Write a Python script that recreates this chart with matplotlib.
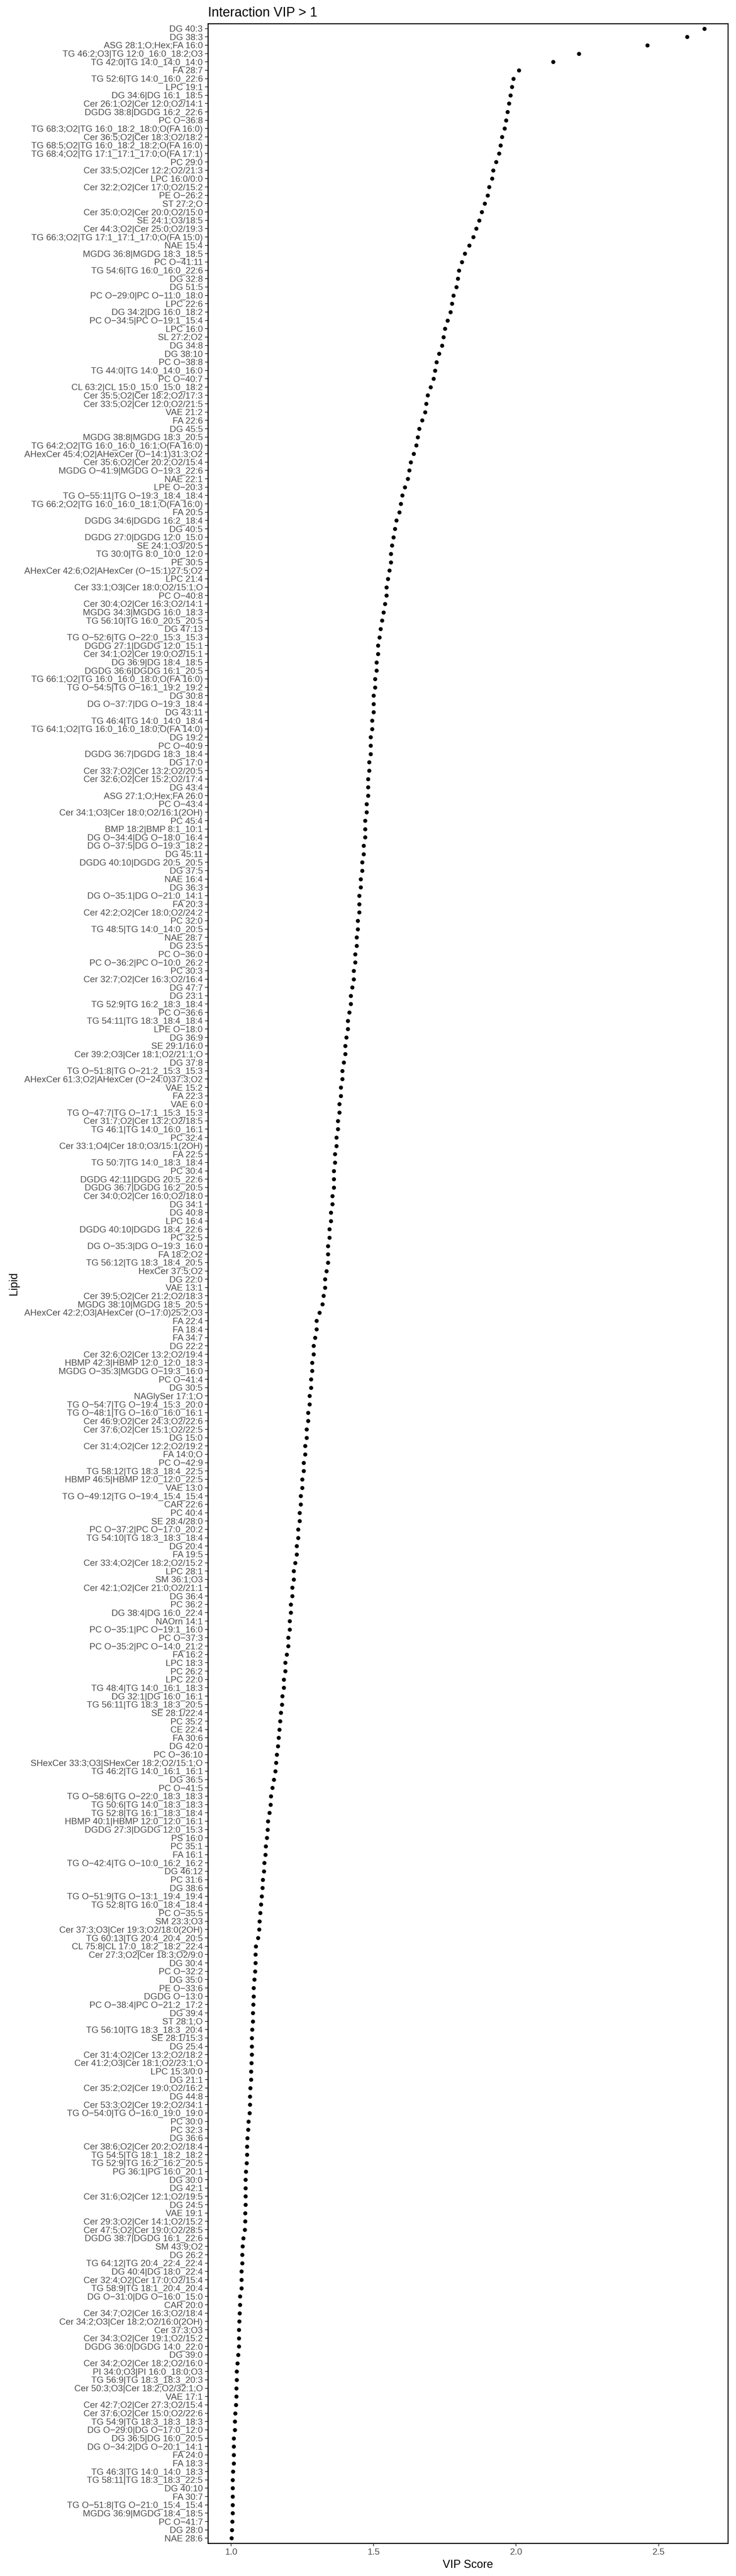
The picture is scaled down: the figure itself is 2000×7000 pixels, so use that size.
import numpy as np
import matplotlib
matplotlib.use("Agg")
import matplotlib.pyplot as plt

# lipids in plot order, top to bottom
lipids = [
    "DG 40:3", "DG 38:3", "ASG 28:1;O;Hex;FA 16:0", "TG 46:2;O3|TG 12:0_16:0_18:2;O3",
    "TG 42:0|TG 14:0_14:0_14:0", "FA 28:7", "TG 52:6|TG 14:0_16:0_22:6", "LPC 19:1",
    "DG 34:6|DG 16:1_18:5", "Cer 26:1;O2|Cer 12:0;O2/14:1", "DGDG 38:8|DGDG 16:2_22:6", "PC O-36:8",
    "TG 68:3;O2|TG 16:0_18:2_18:0;O(FA 16:0)", "Cer 36:5;O2|Cer 18:3;O2/18:2",
    "TG 68:5;O2|TG 16:0_18:2_18:2;O(FA 16:0)", "TG 68:4;O2|TG 17:1_17:1_17:0;O(FA 17:1)",
    "PC 29:0", "Cer 33:5;O2|Cer 12:2;O2/21:3", "LPC 16:0/0:0", "Cer 32:2;O2|Cer 17:0;O2/15:2",
    "PE O-26:2", "ST 27:2;O", "Cer 35:0;O2|Cer 20:0;O2/15:0", "SE 24:1;O3/18:5",
    "Cer 44:3;O2|Cer 25:0;O2/19:3", "TG 66:3;O2|TG 17:1_17:1_17:0;O(FA 15:0)", "NAE 15:4",
    "MGDG 36:8|MGDG 18:3_18:5", "PC O-41:11", "TG 54:6|TG 16:0_16:0_22:6", "DG 32:8", "DG 51:5",
    "PC O-29:0|PC O-11:0_18:0", "LPC 22:6", "DG 34:2|DG 16:0_18:2", "PC O-34:5|PC O-19:1_15:4",
    "LPC 16:0", "SL 27:2;O2", "DG 34:8", "DG 38:10", "PC O-38:8", "TG 44:0|TG 14:0_14:0_16:0",
    "PC O-40:7", "CL 63:2|CL 15:0_15:0_15:0_18:2", "Cer 35:5;O2|Cer 18:2;O2/17:3",
    "Cer 33:5;O2|Cer 12:0;O2/21:5", "VAE 21:2", "FA 22:6", "DG 45:5", "MGDG 38:8|MGDG 18:3_20:5",
    "TG 64:2;O2|TG 16:0_16:0_16:1;O(FA 16:0)", "AHexCer 45:4;O2|AHexCer (O-14:1)31:3;O2",
    "Cer 35:6;O2|Cer 20:2;O2/15:4", "MGDG O-41:9|MGDG O-19:3_22:6", "NAE 22:1", "LPE O-20:3",
    "TG O-55:11|TG O-19:3_18:4_18:4", "TG 66:2;O2|TG 16:0_16:0_18:1;O(FA 16:0)", "FA 20:5",
    "DGDG 34:6|DGDG 16:2_18:4", "DG 40:5", "DGDG 27:0|DGDG 12:0_15:0", "SE 24:1;O3/20:5",
    "TG 30:0|TG 8:0_10:0_12:0", "PE 30:5", "AHexCer 42:6;O2|AHexCer (O-15:1)27:5;O2", "LPC 21:4",
    "Cer 33:1;O3|Cer 18:0;O2/15:1;O", "PC O-40:8", "Cer 30:4;O2|Cer 16:3;O2/14:1",
    "MGDG 34:3|MGDG 16:0_18:3", "TG 56:10|TG 16:0_20:5_20:5", "DG 47:13",
    "TG O-52:6|TG O-22:0_15:3_15:3", "DGDG 27:1|DGDG 12:0_15:1", "Cer 34:1;O2|Cer 19:0;O2/15:1",
    "DG 36:9|DG 18:4_18:5", "DGDG 36:6|DGDG 16:1_20:5", "TG 66:1;O2|TG 16:0_16:0_18:0;O(FA 16:0)",
    "TG O-54:5|TG O-16:1_19:2_19:2", "DG 30:8", "DG O-37:7|DG O-19:3_18:4", "DG 43:11",
    "TG 46:4|TG 14:0_14:0_18:4", "TG 64:1;O2|TG 16:0_16:0_18:0;O(FA 14:0)", "DG 19:2", "PC O-40:9",
    "DGDG 36:7|DGDG 18:3_18:4", "DG 17:0", "Cer 33:7;O2|Cer 13:2;O2/20:5",
    "Cer 32:6;O2|Cer 15:2;O2/17:4", "DG 43:4", "ASG 27:1;O;Hex;FA 26:0", "PC O-43:4",
    "Cer 34:1;O3|Cer 18:0;O2/16:1(2OH)", "PC 45:4", "BMP 18:2|BMP 8:1_10:1",
    "DG O-34:4|DG O-18:0_16:4", "DG O-37:5|DG O-19:3_18:2", "DG 45:11", "DGDG 40:10|DGDG 20:5_20:5",
    "DG 37:5", "NAE 16:4", "DG 36:3", "DG O-35:1|DG O-21:0_14:1", "FA 20:3",
    "Cer 42:2;O2|Cer 18:0;O2/24:2", "PC 32:0", "TG 48:5|TG 14:0_14:0_20:5", "NAE 28:7", "DG 23:5",
    "PC O-36:0", "PC O-36:2|PC O-10:0_26:2", "PC 30:3", "Cer 32:7;O2|Cer 16:3;O2/16:4", "DG 47:7",
    "DG 23:1", "TG 52:9|TG 16:2_18:3_18:4", "PC O-36:6", "TG 54:11|TG 18:3_18:4_18:4", "LPE O-18:0",
    "DG 36:9", "SE 29:1/16:0", "Cer 39:2;O3|Cer 18:1;O2/21:1;O", "DG 37:8",
    "TG O-51:8|TG O-21:2_15:3_15:3", "AHexCer 61:3;O2|AHexCer (O-24:0)37:3;O2", "VAE 15:2",
    "FA 22:3", "VAE 6:0", "TG O-47:7|TG O-17:1_15:3_15:3", "Cer 31:7;O2|Cer 13:2;O2/18:5",
    "TG 46:1|TG 14:0_16:0_16:1", "PC 32:4", "Cer 33:1;O4|Cer 18:0;O3/15:1(2OH)", "FA 22:5",
    "TG 50:7|TG 14:0_18:3_18:4", "PC 30:4", "DGDG 42:11|DGDG 20:5_22:6", "DGDG 36:7|DGDG 16:2_20:5",
    "Cer 34:0;O2|Cer 16:0;O2/18:0", "DG 34:1", "DG 40:8", "LPC 16:4", "DGDG 40:10|DGDG 18:4_22:6",
    "PC 32:5", "DG O-35:3|DG O-19:3_16:0", "FA 18:2;O2", "TG 56:12|TG 18:3_18:4_20:5",
    "HexCer 37:5;O2", "DG 22:0", "VAE 13:1", "Cer 39:5;O2|Cer 21:2;O2/18:3",
    "MGDG 38:10|MGDG 18:5_20:5", "AHexCer 42:2;O3|AHexCer (O-17:0)25:2;O3", "FA 22:4", "FA 18:4",
    "FA 34:7", "DG 22:2", "Cer 32:6;O2|Cer 13:2;O2/19:4", "HBMP 42:3|HBMP 12:0_12:0_18:3",
    "MGDG O-35:3|MGDG O-19:3_16:0", "PC O-41:4", "DG 30:5", "NAGlySer 17:1;O",
    "TG O-54:7|TG O-19:4_15:3_20:0", "TG O-48:1|TG O-16:0_16:0_16:1", "Cer 46:9;O2|Cer 24:3;O2/22:6",
    "Cer 37:6;O2|Cer 15:1;O2/22:5", "DG 15:0", "Cer 31:4;O2|Cer 12:2;O2/19:2", "FA 14:0;O",
    "PC O-42:9", "TG 58:12|TG 18:3_18:4_22:5", "HBMP 46:5|HBMP 12:0_12:0_22:5", "VAE 13:0",
    "TG O-49:12|TG O-19:4_15:4_15:4", "CAR 22:6", "PC 40:4", "SE 28:4/28:0",
    "PC O-37:2|PC O-17:0_20:2", "TG 54:10|TG 18:3_18:3_18:4", "DG 20:4", "FA 19:5",
    "Cer 33:4;O2|Cer 18:2;O2/15:2", "LPC 28:1", "SM 36:1;O3", "Cer 42:1;O2|Cer 21:0;O2/21:1",
    "DG 36:4", "PC 36:2", "DG 38:4|DG 16:0_22:4", "NAOrn 14:1", "PC O-35:1|PC O-19:1_16:0",
    "PC O-37:3", "PC O-35:2|PC O-14:0_21:2", "FA 16:2", "LPC 18:3", "PC 26:2", "LPC 22:0",
    "TG 48:4|TG 14:0_16:1_18:3", "DG 32:1|DG 16:0_16:1", "TG 56:11|TG 18:3_18:3_20:5",
    "SE 28:1/22:4", "PC 35:2", "CE 22:4", "FA 30:6", "DG 42:0", "PC O-36:10",
    "SHexCer 33:3;O3|SHexCer 18:2;O2/15:1;O", "TG 46:2|TG 14:0_16:1_16:1", "DG 36:5", "PC O-41:5",
    "TG O-58:6|TG O-22:0_18:3_18:3", "TG 50:6|TG 14:0_18:3_18:3", "TG 52:8|TG 16:1_18:3_18:4",
    "HBMP 40:1|HBMP 12:0_12:0_16:1", "DGDG 27:3|DGDG 12:0_15:3", "PS 16:0", "PC 35:1", "FA 16:1",
    "TG O-42:4|TG O-10:0_16:2_16:2", "DG 46:12", "PC 31:6", "DG 38:6",
    "TG O-51:9|TG O-13:1_19:4_19:4", "TG 52:8|TG 16:0_18:4_18:4", "PC O-35:5", "SM 23:3;O3",
    "Cer 37:3;O3|Cer 19:3;O2/18:0(2OH)", "TG 60:13|TG 20:4_20:4_20:5",
    "CL 75:8|CL 17:0_18:2_18:2_22:4", "Cer 27:3;O2|Cer 18:3;O2/9:0", "DG 30:4", "PC O-32:2",
    "DG 35:0", "PE O-33:6", "DGDG O-13:0", "PC O-38:4|PC O-21:2_17:2", "DG 39:4", "ST 28:1;O",
    "TG 56:10|TG 18:3_18:3_20:4", "SE 28:1/15:3", "DG 25:4", "Cer 31:4;O2|Cer 13:2;O2/18:2",
    "Cer 41:2;O3|Cer 18:1;O2/23:1;O", "LPC 15:3/0:0", "DG 21:1", "Cer 35:2;O2|Cer 19:0;O2/16:2",
    "DG 44:8", "Cer 53:3;O2|Cer 19:2;O2/34:1", "TG O-54:0|TG O-16:0_19:0_19:0", "PC 30:0", "PC 32:3",
    "DG 36:6", "Cer 38:6;O2|Cer 20:2;O2/18:4", "TG 54:5|TG 18:1_18:2_18:2",
    "TG 52:9|TG 16:2_16:2_20:5", "PG 36:1|PG 16:0_20:1", "DG 30:0", "DG 42:1",
    "Cer 31:6;O2|Cer 12:1;O2/19:5", "DG 24:5", "VAE 19:1", "Cer 29:3;O2|Cer 14:1;O2/15:2",
    "Cer 47:5;O2|Cer 19:0;O2/28:5", "DGDG 38:7|DGDG 16:1_22:6", "SM 43:9;O2", "DG 26:2",
    "TG 64:12|TG 20:4_22:4_22:4", "DG 40:4|DG 18:0_22:4", "Cer 32:4;O2|Cer 17:0;O2/15:4",
    "TG 58:9|TG 18:1_20:4_20:4", "DG O-31:0|DG O-16:0_15:0", "CAR 20:0",
    "Cer 34:7;O2|Cer 16:3;O2/18:4", "Cer 34:2;O3|Cer 18:2;O2/16:0(2OH)", "Cer 37:3;O3",
    "Cer 34:3;O2|Cer 19:1;O2/15:2", "DGDG 36:0|DGDG 14:0_22:0", "DG 39:0",
    "Cer 34:2;O2|Cer 18:2;O2/16:0", "PI 34:0;O3|PI 16:0_18:0;O3", "TG 56:9|TG 18:3_18:3_20:3",
    "Cer 50:3;O3|Cer 18:2;O2/32:1;O", "VAE 17:1", "Cer 42:7;O2|Cer 27:3;O2/15:4",
    "Cer 37:6;O2|Cer 15:0;O2/22:6", "TG 54:9|TG 18:3_18:3_18:3", "DG O-29:0|DG O-17:0_12:0",
    "DG 36:5|DG 16:0_20:5", "DG O-34:2|DG O-20:1_14:1", "FA 24:0", "FA 18:3",
    "TG 46:3|TG 14:0_14:0_18:3", "TG 58:11|TG 18:3_18:3_22:5", "DG 40:10", "FA 30:7",
    "TG O-51:8|TG O-21:0_15:4_15:4", "MGDG 36:9|MGDG 18:4_18:5", "PC O-41:7", "DG 28:0", "NAE 28:6",
]

vip_scores = [
    2.66, 2.60, 2.46, 2.22, 2.13, 2.01, 1.99, 1.985, 1.98, 1.975,
    1.97, 1.965, 1.96, 1.95, 1.945, 1.94, 1.93, 1.92, 1.915, 1.905,
    1.90, 1.89, 1.88, 1.87, 1.86, 1.85, 1.835, 1.82, 1.81, 1.80,
    1.795, 1.79, 1.78, 1.775, 1.77, 1.76, 1.75, 1.745, 1.74, 1.73,
    1.72, 1.715, 1.71, 1.70, 1.69, 1.685, 1.68, 1.67, 1.66, 1.655,
    1.65, 1.64, 1.63, 1.625, 1.62, 1.61, 1.60, 1.595, 1.59, 1.58,
    1.575, 1.57, 1.565, 1.56, 1.56, 1.555, 1.55, 1.545, 1.545, 1.54,
    1.535, 1.53, 1.525, 1.52, 1.515, 1.515, 1.51, 1.51, 1.505, 1.505,
    1.50, 1.50, 1.50, 1.495, 1.495, 1.49, 1.49, 1.49, 1.485, 1.485,
    1.48, 1.48, 1.48, 1.475, 1.475, 1.47, 1.47, 1.47, 1.465, 1.465,
    1.46, 1.46, 1.455, 1.455, 1.45, 1.45, 1.45, 1.445, 1.445, 1.44,
    1.44, 1.435, 1.435, 1.43, 1.43, 1.425, 1.42, 1.42, 1.415, 1.41,
    1.41, 1.405, 1.40, 1.40, 1.395, 1.39, 1.39, 1.385, 1.385, 1.38,
    1.38, 1.375, 1.375, 1.37, 1.37, 1.365, 1.365, 1.36, 1.36, 1.36,
    1.355, 1.355, 1.35, 1.35, 1.345, 1.345, 1.34, 1.34, 1.34, 1.335,
    1.33, 1.33, 1.325, 1.32, 1.31, 1.30, 1.30, 1.295, 1.29, 1.29,
    1.285, 1.285, 1.28, 1.28, 1.275, 1.275, 1.27, 1.27, 1.265, 1.265,
    1.26, 1.26, 1.255, 1.255, 1.25, 1.25, 1.245, 1.245, 1.24, 1.24,
    1.235, 1.235, 1.23, 1.23, 1.225, 1.22, 1.22, 1.215, 1.215, 1.21,
    1.21, 1.205, 1.205, 1.20, 1.20, 1.195, 1.19, 1.19, 1.185, 1.185,
    1.18, 1.178, 1.175, 1.172, 1.17, 1.167, 1.164, 1.161, 1.158, 1.155,
    1.15, 1.145, 1.14, 1.138, 1.135, 1.13, 1.128, 1.125, 1.122, 1.12,
    1.117, 1.115, 1.112, 1.11, 1.107, 1.105, 1.103, 1.10, 1.098, 1.095,
    1.087, 1.086, 1.085, 1.084, 1.082, 1.079, 1.079, 1.078, 1.077, 1.077,
    1.074, 1.073, 1.073, 1.073, 1.071, 1.070, 1.070, 1.067, 1.066, 1.066,
    1.065, 1.061, 1.060, 1.057, 1.056, 1.056, 1.055, 1.052, 1.051, 1.051,
    1.051, 1.051, 1.049, 1.049, 1.048, 1.043, 1.040, 1.039, 1.039, 1.037,
    1.036, 1.036, 1.032, 1.032, 1.030, 1.029, 1.028, 1.027, 1.027, 1.025,
    1.022, 1.020, 1.020, 1.019, 1.019, 1.017, 1.015, 1.013, 1.013, 1.010,
    1.010, 1.010, 1.009, 1.007, 1.006, 1.006, 1.006, 1.006, 1.005, 1.004,
    1.003, 1.002,
]

x_ticks = [1.0, 1.5, 2.0, 2.5]

plt.rcParams["font.family"] = ["Liberation Sans", "DejaVu Sans"]

fig = plt.figure(figsize=(20, 70), dpi=100)
ax = fig.add_axes([0.2825, 0.01271, 0.7065, 0.97815])

n = len(lipids)
ypos = np.arange(n)
ax.scatter(vip_scores, ypos, s=64, color="black", zorder=3, linewidths=0)

# discrete axis padding like ggplot
ax.set_ylim(n - 1 + 0.6, -0.6)
lo, hi = min(vip_scores), max(vip_scores)
pad = 0.05 * (hi - lo)
ax.set_xlim(lo - pad, hi + pad)

ax.set_yticks(ypos)
ax.set_yticklabels([s.replace("-", "\u2212") for s in lipids])
ax.set_xticks(x_ticks)
ax.set_xticklabels([f"{t:.1f}" for t in x_ticks])

ax.tick_params(axis="both", labelsize=17.5, colors="#4d4d4d", length=6, width=1.4, pad=4)
ax.tick_params(axis="both", color="#333333")
for sp in ax.spines.values():
    sp.set_linewidth(2.0)
    sp.set_color("black")

ax.set_xlabel("VIP Score", fontsize=22, labelpad=6)
ax.set_ylabel("Lipid", fontsize=22, labelpad=10)
ax.set_title("Interaction VIP > 1", fontsize=26, loc="left", pad=14)

fig.savefig("out.png", dpi=100)
